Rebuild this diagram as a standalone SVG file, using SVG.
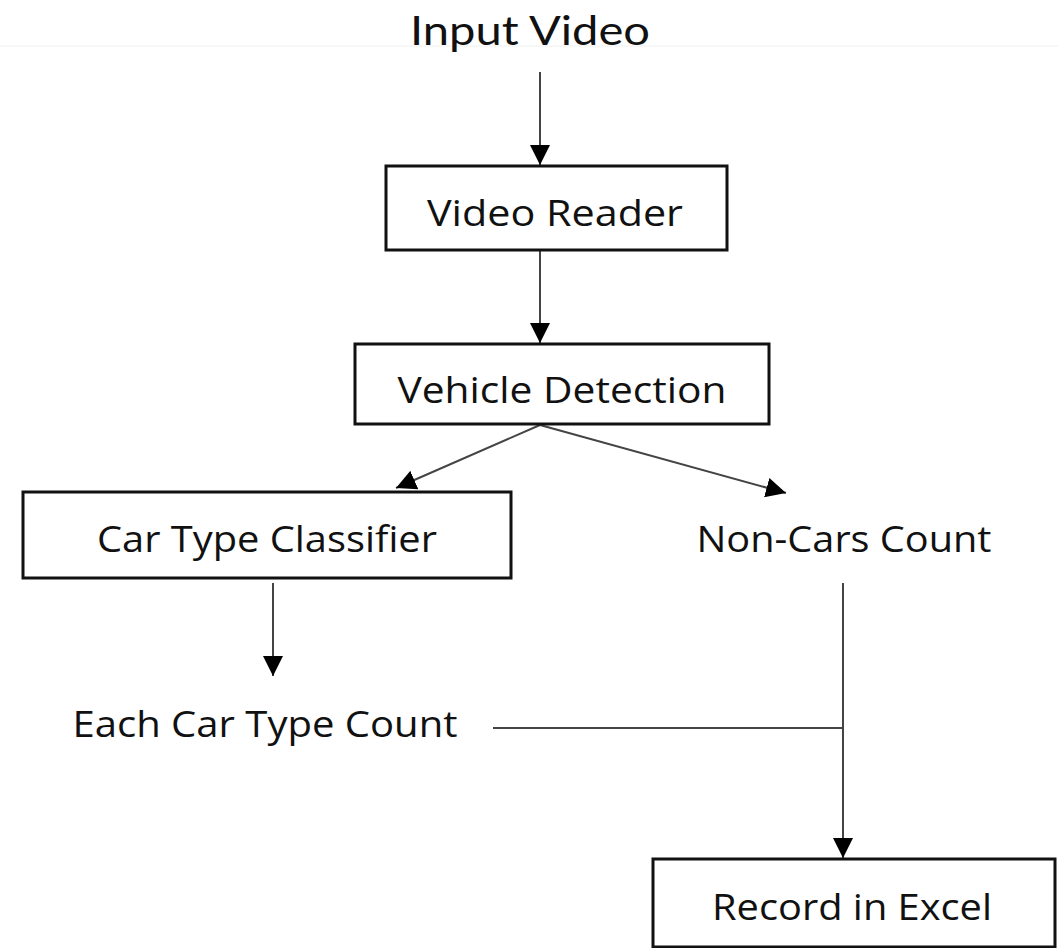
<svg xmlns="http://www.w3.org/2000/svg" width="1058" height="948" viewBox="0 0 1058 948">
<style>
.box{fill:#fff;stroke:#111;stroke-width:3}
.lbl{font-family:"Open Sans","Noto Sans",sans-serif;font-size:37px;fill:#111;text-anchor:middle}
.title{font-family:"Lato","DejaVu Sans",sans-serif;font-size:40px;fill:#111;text-anchor:middle}
.con{stroke:#444;stroke-width:2;fill:none}
</style>
<defs>
<marker id="arr" viewBox="0 0 10 10" refX="10" refY="5" markerWidth="10" markerHeight="10" markerUnits="userSpaceOnUse" orient="auto">
<path d="M0,0 L10,5 L0,10 Z" fill="#000"/>
</marker>
<marker id="ah" viewBox="0 0 20 20" refX="20" refY="10" markerWidth="20" markerHeight="20" markerUnits="userSpaceOnUse" orient="auto">
<path d="M0,0 L20,10 L0,20 Z" fill="#000"/>
</marker>
</defs>
<rect x="0" y="0" width="1058" height="948" fill="#fff"/>
<line x1="0" y1="46" x2="1058" y2="46" stroke="#f0f0f0" stroke-width="1"/>
<g id="connectors">
<line class="con" x1="540" y1="72" x2="540" y2="165" marker-end="url(#ah)"/>
<line class="con" x1="540" y1="251" x2="540" y2="343" marker-end="url(#ah)"/>
<line class="con" x1="540" y1="425" x2="396" y2="488" marker-end="url(#ah)"/>
<line class="con" x1="540" y1="425" x2="786" y2="493" marker-end="url(#ah)"/>
<line class="con" x1="273" y1="583" x2="273" y2="676" marker-end="url(#ah)"/>
<line class="con" x1="843" y1="583" x2="843" y2="858" marker-end="url(#ah)"/>
<line class="con" x1="493" y1="728" x2="843" y2="728"/>
</g>
<g id="input-video"><text class="title" x="530" y="45" textLength="240" lengthAdjust="spacingAndGlyphs">Input Video</text></g>
<g id="video-reader">
<rect class="box" x="386" y="166" width="341" height="84"/>
<text class="lbl" x="555" y="226" textLength="256" lengthAdjust="spacingAndGlyphs">Video Reader</text>
</g>
<g id="vehicle-detection">
<rect class="box" x="355" y="344" width="414" height="80"/>
<text class="lbl" x="562" y="403" textLength="329" lengthAdjust="spacingAndGlyphs">Vehicle Detection</text>
</g>
<g id="car-type-classifier">
<rect class="box" x="23" y="492" width="488" height="86"/>
<text class="lbl" x="267" y="552" textLength="340" lengthAdjust="spacingAndGlyphs">Car Type Classifier</text>
</g>
<g id="non-cars-count">
<text class="lbl" x="844" y="552" textLength="295" lengthAdjust="spacingAndGlyphs">Non-Cars Count</text>
</g>
<g id="each-car-type-count">
<text class="lbl" x="265" y="737" textLength="385" lengthAdjust="spacingAndGlyphs">Each Car Type Count</text>
</g>
<g id="record-in-excel">
<rect class="box" x="653" y="859" width="402" height="88"/>
<text class="lbl" x="852" y="920" textLength="280" lengthAdjust="spacingAndGlyphs">Record in Excel</text>
</g>
</svg>
